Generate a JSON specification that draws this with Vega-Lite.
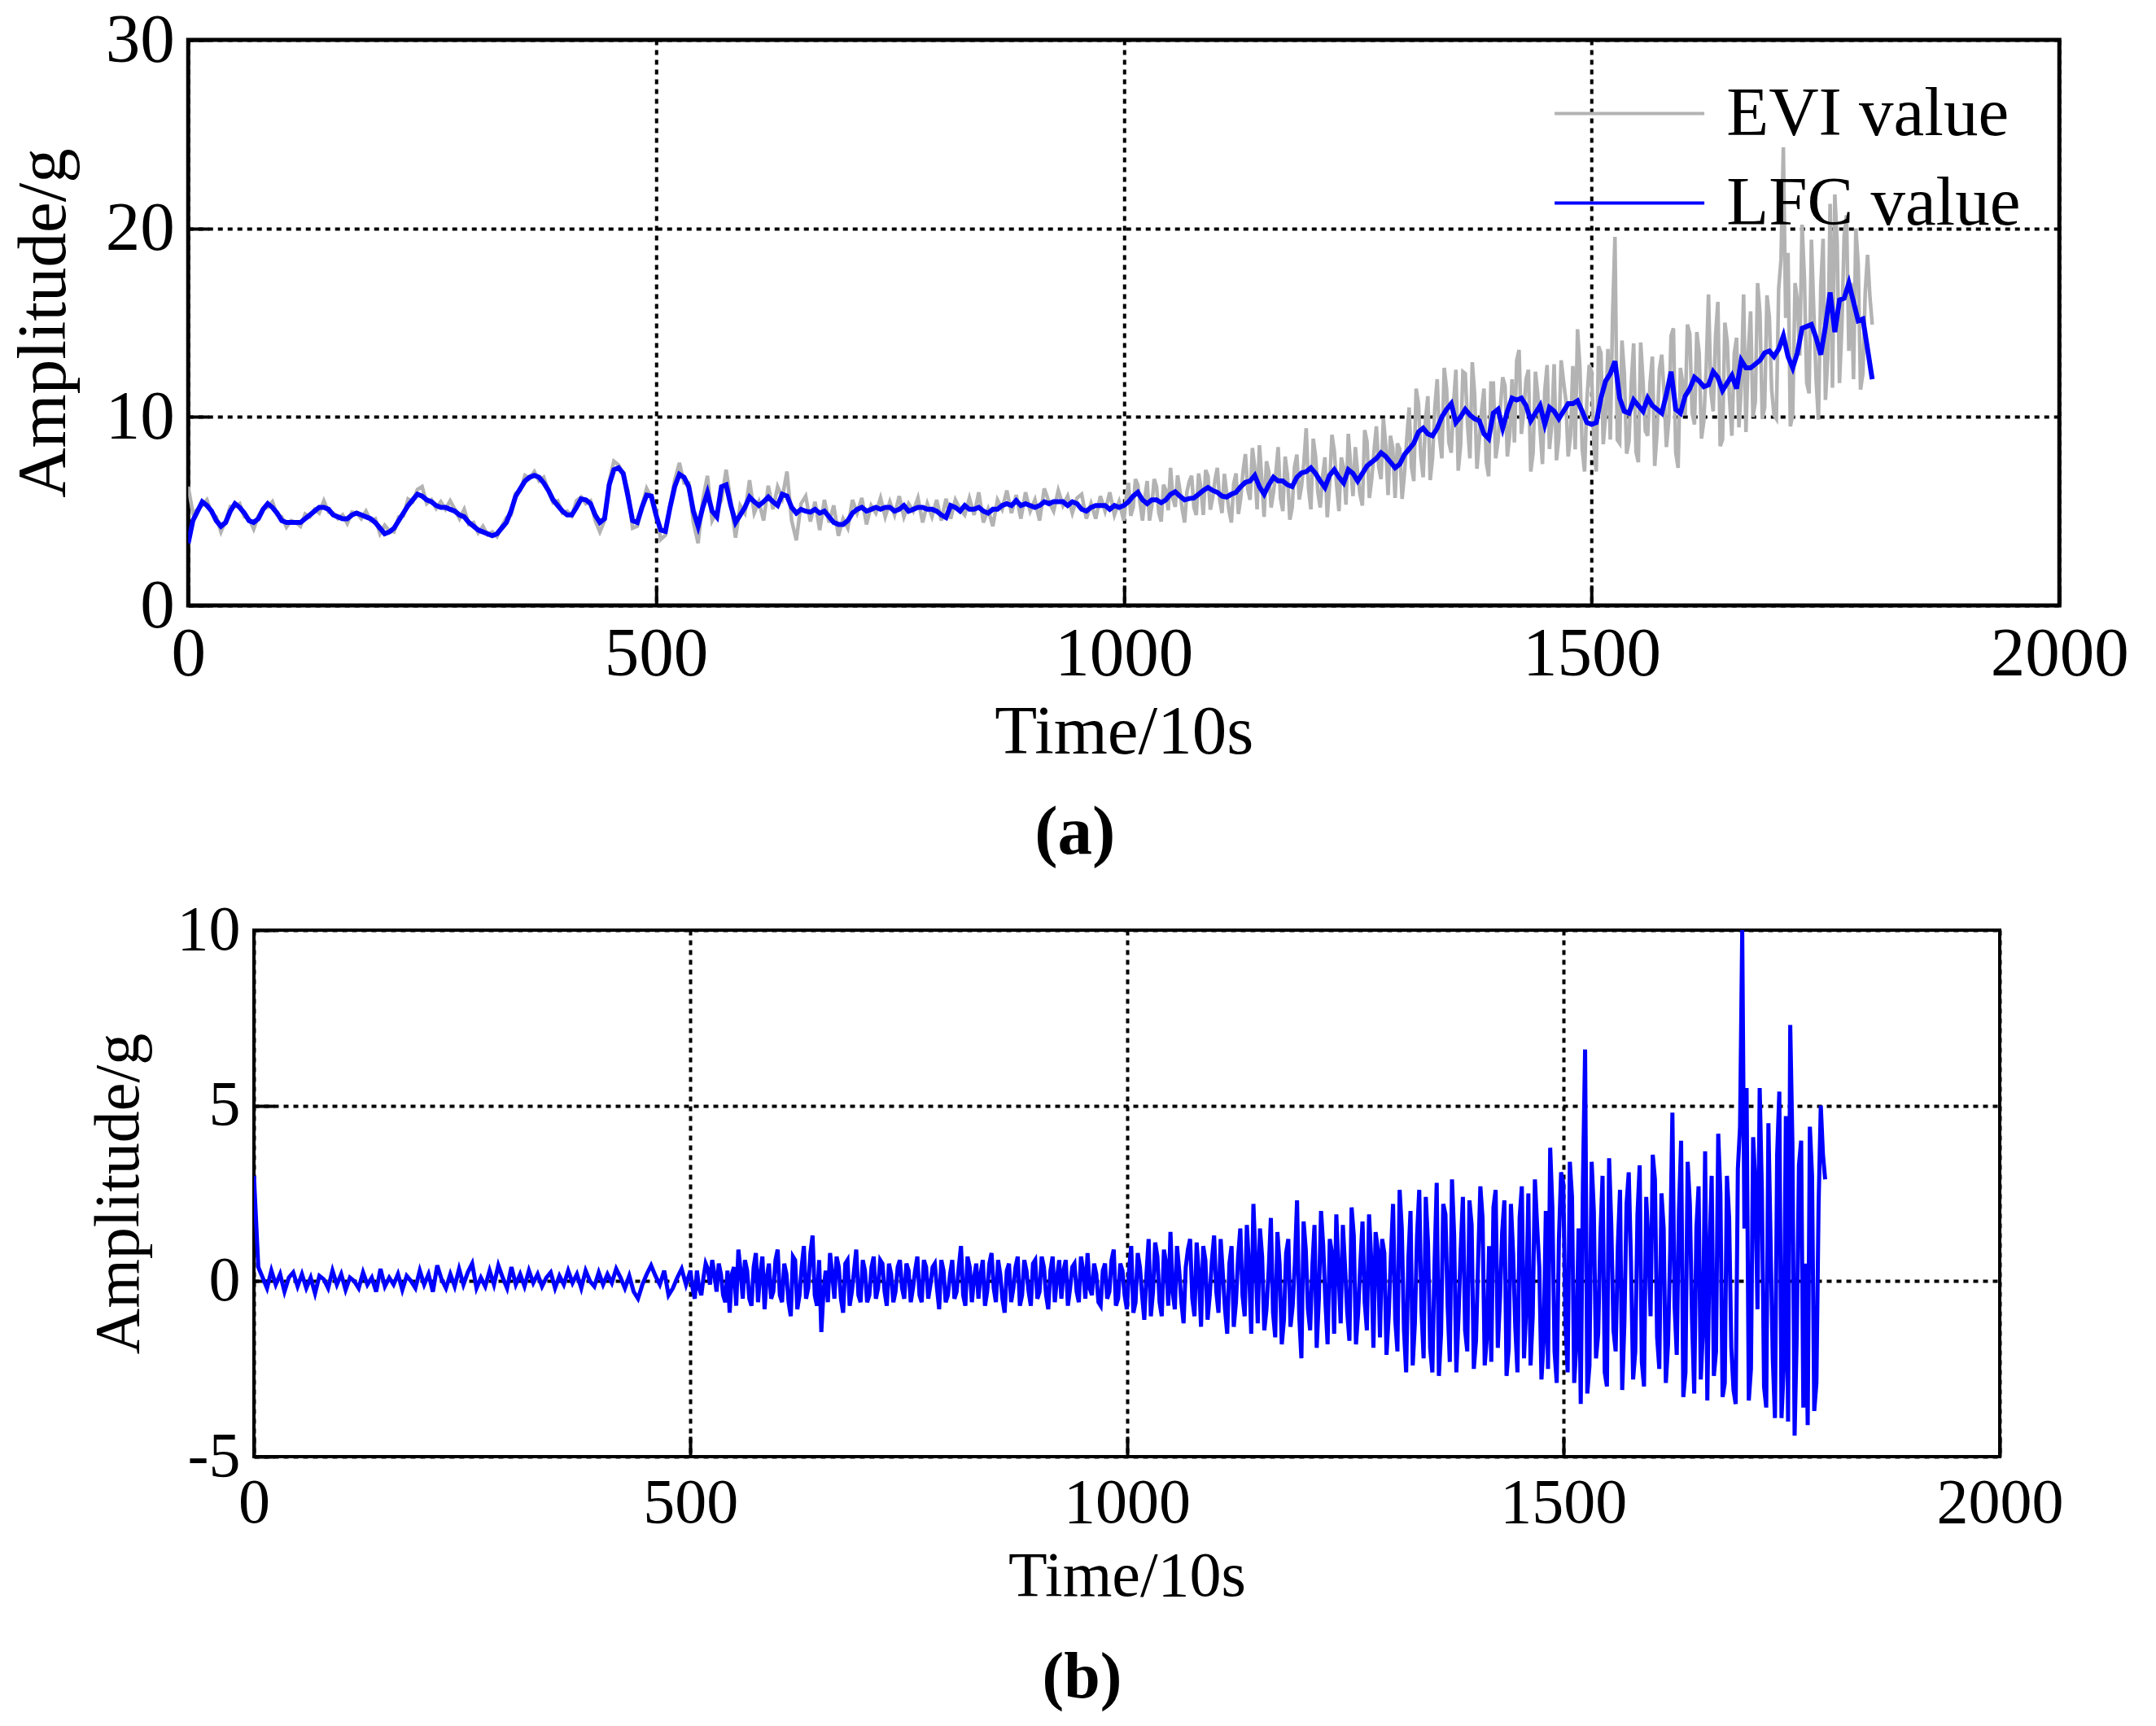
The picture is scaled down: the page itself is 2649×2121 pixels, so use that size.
{
"$schema":"https://vega.github.io/schema/vega-lite/v6.json",
"background":"white",
"padding":{"left":8,"top":4,"right":10,"bottom":0},
"config":{"font":"Liberation Serif","view":{"stroke":"black","strokeWidth":5},
"axis":{"labelFont":"Liberation Serif","titleFont":"Liberation Serif","labelColor":"black","titleColor":"black","titleFontWeight":"normal","domain":false,"grid":true,"gridColor":"black","gridDash":[6,6],"gridWidth":4,"gridOpacity":1,"tickColor":"black","tickWidth":4,"tickSize":-25,"zindex":1,"labelLimit":0,"labelOverlap":false,"labelFlush":false,"labelExpr":"'' + datum.value"},
"legend":{"labelFont":"Liberation Serif","labelLimit":0}},
"datasets":{"d":[
{"t":0,"l":3.3,"r":3.0,"e":6.3},{"t":5,"l":4.5,"r":0.4,"e":4.9},{"t":10,"l":5.0,"r":0.1,"e":5.1},{"t":15,"l":5.5,"r":-0.2,"e":5.3},{"t":20,"l":5.3,"r":0.3,"e":5.6},{"t":25,"l":5.0,"r":-0.1,"e":4.9},{"t":30,"l":4.5,"r":0.2,"e":4.7},{"t":35,"l":4.2,"r":-0.3,"e":3.9},{"t":40,"l":4.4,"r":0.1,"e":4.5},{"t":45,"l":5.0,"r":0.25,"e":5.25},
{"t":50,"l":5.4,"r":-0.15,"e":5.25},{"t":55,"l":5.2,"r":0.2,"e":5.4},{"t":60,"l":4.9,"r":-0.2,"e":4.7},{"t":65,"l":4.5,"r":0.1,"e":4.6},{"t":70,"l":4.4,"r":-0.35,"e":4.05},{"t":75,"l":4.6,"r":0.15,"e":4.75},{"t":80,"l":5.1,"r":0.05,"e":5.15},{"t":85,"l":5.4,"r":-0.2,"e":5.2},{"t":90,"l":5.2,"r":0.3,"e":5.5},{"t":95,"l":4.9,"r":-0.1,"e":4.8},
{"t":100,"l":4.5,"r":0.2,"e":4.7},{"t":105,"l":4.4,"r":-0.25,"e":4.15},{"t":110,"l":4.4,"r":0.1,"e":4.5},{"t":115,"l":4.4,"r":0.0,"e":4.4},{"t":120,"l":4.4,"r":-0.2,"e":4.2},{"t":125,"l":4.6,"r":0.25,"e":4.85},{"t":130,"l":4.8,"r":-0.1,"e":4.7},{"t":135,"l":5.0,"r":0.1,"e":5.1},{"t":140,"l":5.2,"r":-0.3,"e":4.9},{"t":145,"l":5.2,"r":0.35,"e":5.55},
{"t":150,"l":5.1,"r":-0.15,"e":4.95},{"t":155,"l":4.8,"r":0.1,"e":4.9},{"t":160,"l":4.7,"r":-0.1,"e":4.6},{"t":165,"l":4.6,"r":0.2,"e":4.8},{"t":170,"l":4.6,"r":-0.25,"e":4.35},{"t":175,"l":4.8,"r":0.15,"e":4.95},{"t":180,"l":4.9,"r":0.0,"e":4.9},{"t":185,"l":4.8,"r":-0.2,"e":4.6},{"t":190,"l":4.7,"r":0.3,"e":5.0},{"t":195,"l":4.6,"r":-0.1,"e":4.5},
{"t":200,"l":4.4,"r":0.2,"e":4.6},{"t":205,"l":4.1,"r":-0.3,"e":3.8},{"t":210,"l":3.8,"r":0.45,"e":4.25},{"t":215,"l":3.9,"r":0.05,"e":3.95},{"t":220,"l":4.1,"r":-0.2,"e":3.9},{"t":225,"l":4.5,"r":0.2,"e":4.7},{"t":230,"l":4.9,"r":-0.15,"e":4.75},{"t":235,"l":5.3,"r":0.35,"e":5.65},{"t":240,"l":5.6,"r":-0.1,"e":5.5},{"t":245,"l":5.9,"r":0.25,"e":6.15},
{"t":250,"l":5.8,"r":0.5,"e":6.3},{"t":255,"l":5.6,"r":-0.2,"e":5.4},{"t":260,"l":5.5,"r":0.1,"e":5.6},{"t":265,"l":5.3,"r":-0.15,"e":5.15},{"t":270,"l":5.2,"r":0.3,"e":5.5},{"t":275,"l":5.2,"r":-0.1,"e":5.1},{"t":280,"l":5.1,"r":0.45,"e":5.55},{"t":285,"l":5.0,"r":0.1,"e":5.1},{"t":290,"l":4.8,"r":-0.2,"e":4.6},{"t":295,"l":4.7,"r":0.4,"e":5.1},
{"t":300,"l":4.4,"r":-0.1,"e":4.3},{"t":305,"l":4.2,"r":0.2,"e":4.4},{"t":310,"l":4.0,"r":-0.15,"e":3.85},{"t":315,"l":3.9,"r":0.3,"e":4.2},{"t":320,"l":3.8,"r":-0.05,"e":3.75},{"t":325,"l":3.7,"r":0.2,"e":3.9},{"t":330,"l":3.8,"r":-0.15,"e":3.65},{"t":335,"l":4.1,"r":0.1,"e":4.2},{"t":340,"l":4.4,"r":0.25,"e":4.65},{"t":345,"l":5.0,"r":-0.2,"e":4.8},
{"t":350,"l":5.8,"r":0.15,"e":5.95},{"t":355,"l":6.2,"r":-0.1,"e":6.1},{"t":360,"l":6.6,"r":0.3,"e":6.9},{"t":365,"l":6.8,"r":-0.05,"e":6.75},{"t":370,"l":6.9,"r":0.2,"e":7.1},{"t":375,"l":6.8,"r":-0.2,"e":6.6},{"t":380,"l":6.5,"r":0.3,"e":6.8},{"t":385,"l":6.1,"r":0.0,"e":6.1},{"t":390,"l":5.6,"r":-0.15,"e":5.45},{"t":395,"l":5.3,"r":0.25,"e":5.55},
{"t":400,"l":5.0,"r":-0.1,"e":4.9},{"t":405,"l":4.8,"r":0.2,"e":5.0},{"t":410,"l":4.8,"r":-0.05,"e":4.75},{"t":415,"l":5.2,"r":0.35,"e":5.55},{"t":420,"l":5.65,"r":0.1,"e":5.75},{"t":425,"l":5.6,"r":-0.2,"e":5.4},{"t":430,"l":5.4,"r":0.15,"e":5.55},{"t":435,"l":4.8,"r":-0.3,"e":4.5},{"t":440,"l":4.4,"r":-0.5,"e":3.9},{"t":445,"l":4.6,"r":-0.1,"e":4.5},
{"t":450,"l":6.4,"r":0.2,"e":6.6},{"t":455,"l":7.2,"r":0.45,"e":7.65},{"t":460,"l":7.3,"r":0.15,"e":7.45},{"t":465,"l":7.0,"r":-0.1,"e":6.9},{"t":470,"l":5.8,"r":0.3,"e":6.1},{"t":475,"l":4.5,"r":-0.4,"e":4.1},{"t":480,"l":4.4,"r":-0.2,"e":4.2},{"t":485,"l":5.2,"r":0.1,"e":5.3},{"t":490,"l":5.85,"r":0.35,"e":6.2},{"t":495,"l":5.8,"r":-0.1,"e":5.7},
{"t":500,"l":4.8,"r":0.3,"e":5.1},{"t":505,"l":4.0,"r":-0.5,"e":3.5},{"t":510,"l":3.93,"r":-0.2,"e":3.73},{"t":515,"l":5.2,"r":0.1,"e":5.3},{"t":520,"l":6.3,"r":0.35,"e":6.65},{"t":525,"l":6.96,"r":0.6,"e":7.56},{"t":530,"l":6.8,"r":-0.3,"e":6.5},{"t":535,"l":6.3,"r":0.2,"e":6.5},{"t":540,"l":5.0,"r":-0.6,"e":4.4},{"t":545,"l":4.2,"r":-0.9,"e":3.3},
{"t":550,"l":5.2,"r":0.4,"e":5.6},{"t":555,"l":5.98,"r":0.9,"e":6.88},{"t":560,"l":5.0,"r":-0.5,"e":4.5},{"t":565,"l":4.7,"r":0.3,"e":5.0},{"t":570,"l":6.3,"r":-0.7,"e":5.6},{"t":575,"l":6.4,"r":0.8,"e":7.2},{"t":580,"l":5.3,"r":0.2,"e":5.5},{"t":585,"l":4.4,"r":-0.8,"e":3.6},{"t":590,"l":4.8,"r":0.5,"e":5.3},{"t":595,"l":5.2,"r":-0.3,"e":4.9},
{"t":600,"l":5.75,"r":0.9,"e":6.65},{"t":605,"l":5.5,"r":-0.6,"e":4.9},{"t":610,"l":5.3,"r":0.2,"e":5.5},{"t":615,"l":5.5,"r":-1.0,"e":4.5},{"t":620,"l":5.75,"r":0.6,"e":6.35},{"t":625,"l":5.5,"r":-0.4,"e":5.1},{"t":630,"l":5.3,"r":1.0,"e":6.3},{"t":635,"l":5.9,"r":-0.2,"e":5.7},{"t":640,"l":5.8,"r":1.3,"e":7.1},{"t":645,"l":5.2,"r":-0.7,"e":4.5},
{"t":650,"l":4.9,"r":-1.45,"e":3.45},{"t":655,"l":5.1,"r":0.3,"e":5.4},{"t":660,"l":5.0,"r":0.8,"e":5.8},{"t":665,"l":4.95,"r":-0.5,"e":4.45},{"t":670,"l":5.1,"r":0.4,"e":5.5},{"t":675,"l":4.9,"r":-0.9,"e":4.0},{"t":680,"l":5.0,"r":0.6,"e":5.6},{"t":685,"l":4.7,"r":-0.3,"e":4.4},{"t":690,"l":4.4,"r":0.9,"e":5.3},{"t":695,"l":4.3,"r":-0.6,"e":3.7},
{"t":700,"l":4.3,"r":0.3,"e":4.6},{"t":705,"l":4.5,"r":-0.4,"e":4.1},{"t":710,"l":4.9,"r":0.7,"e":5.6},{"t":715,"l":5.1,"r":-0.2,"e":4.9},{"t":720,"l":5.2,"r":0.5,"e":5.7},{"t":725,"l":5.0,"r":-0.7,"e":4.3},{"t":730,"l":5.1,"r":0.2,"e":5.3},{"t":735,"l":5.2,"r":-0.3,"e":4.9},{"t":740,"l":5.1,"r":0.6,"e":5.7},{"t":745,"l":5.2,"r":-0.5,"e":4.7},
{"t":750,"l":5.2,"r":0.3,"e":5.5},{"t":755,"l":5.0,"r":-0.2,"e":4.8},{"t":760,"l":5.1,"r":0.7,"e":5.8},{"t":765,"l":5.3,"r":-0.6,"e":4.7},{"t":770,"l":5.0,"r":0.4,"e":5.4},{"t":775,"l":5.1,"r":-0.1,"e":5.0},{"t":780,"l":5.2,"r":0.5,"e":5.7},{"t":785,"l":5.2,"r":-0.8,"e":4.4},{"t":790,"l":5.1,"r":0.3,"e":5.4},{"t":795,"l":5.1,"r":-0.4,"e":4.7},
{"t":800,"l":5.0,"r":0.6,"e":5.6},{"t":805,"l":4.8,"r":-0.3,"e":4.5},{"t":810,"l":4.66,"r":1.0,"e":5.66},{"t":815,"l":5.3,"r":-0.7,"e":4.6},{"t":820,"l":5.2,"r":0.4,"e":5.6},{"t":825,"l":5.0,"r":0.1,"e":5.1},{"t":830,"l":5.3,"r":-0.5,"e":4.8},{"t":835,"l":5.1,"r":0.6,"e":5.7},{"t":840,"l":5.1,"r":-0.3,"e":4.8},{"t":845,"l":5.2,"r":0.8,"e":6.0},
{"t":850,"l":5.0,"r":-0.6,"e":4.4},{"t":855,"l":4.9,"r":0.2,"e":5.1},{"t":860,"l":5.1,"r":-0.9,"e":4.2},{"t":865,"l":5.1,"r":0.5,"e":5.6},{"t":870,"l":5.3,"r":-0.2,"e":5.1},{"t":875,"l":5.4,"r":0.7,"e":6.1},{"t":880,"l":5.3,"r":-0.4,"e":4.9},{"t":885,"l":5.56,"r":0.3,"e":5.86},{"t":890,"l":5.3,"r":-0.7,"e":4.6},{"t":895,"l":5.4,"r":0.6,"e":6.0},
{"t":900,"l":5.3,"r":-0.3,"e":5.0},{"t":905,"l":5.2,"r":0.4,"e":5.6},{"t":910,"l":5.3,"r":-0.8,"e":4.5},{"t":915,"l":5.5,"r":0.7,"e":6.2},{"t":920,"l":5.4,"r":0.1,"e":5.5},{"t":925,"l":5.5,"r":-0.5,"e":5.0},{"t":930,"l":5.5,"r":0.6,"e":6.1},{"t":935,"l":5.5,"r":-0.2,"e":5.3},{"t":940,"l":5.3,"r":0.5,"e":5.8},{"t":945,"l":5.5,"r":-0.6,"e":4.9},
{"t":950,"l":5.4,"r":0.3,"e":5.7},{"t":955,"l":5.1,"r":0.8,"e":5.9},{"t":960,"l":5.0,"r":-0.4,"e":4.6},{"t":965,"l":5.2,"r":0.2,"e":5.4},{"t":970,"l":5.3,"r":-0.7,"e":4.6},{"t":975,"l":5.3,"r":0.5,"e":5.8},{"t":980,"l":5.3,"r":-0.3,"e":5.0},{"t":985,"l":5.1,"r":0.9,"e":6.0},{"t":990,"l":5.3,"r":-0.5,"e":4.8},{"t":995,"l":5.2,"r":0.3,"e":5.5},
{"t":1000,"l":5.3,"r":-0.8,"e":4.5},{"t":1005,"l":5.5,"r":1.0,"e":6.5},{"t":1010,"l":5.8,"r":-0.6,"e":5.2},{"t":1015,"l":6.0,"r":0.4,"e":6.4},{"t":1020,"l":5.6,"r":-1.1,"e":4.5},{"t":1025,"l":5.4,"r":1.2,"e":6.6},{"t":1030,"l":5.6,"r":-0.3,"e":5.3},{"t":1035,"l":5.6,"r":0.7,"e":6.3},{"t":1040,"l":5.45,"r":-1.0,"e":4.45},{"t":1045,"l":5.6,"r":0.5,"e":6.1},
{"t":1050,"l":5.9,"r":1.4,"e":7.3},{"t":1055,"l":6.03,"r":-0.8,"e":5.23},{"t":1060,"l":5.8,"r":0.3,"e":6.1},{"t":1065,"l":5.6,"r":-1.2,"e":4.4},{"t":1070,"l":5.67,"r":0.9,"e":6.57},{"t":1075,"l":5.7,"r":-0.5,"e":5.2},{"t":1080,"l":5.9,"r":1.1,"e":7.0},{"t":1085,"l":6.1,"r":-1.3,"e":4.8},{"t":1090,"l":6.26,"r":0.6,"e":6.86},{"t":1095,"l":6.1,"r":-0.4,"e":5.7},
{"t":1100,"l":6.0,"r":1.3,"e":7.3},{"t":1105,"l":5.8,"r":-0.9,"e":4.9},{"t":1110,"l":5.75,"r":0.2,"e":5.95},{"t":1115,"l":5.9,"r":-1.5,"e":4.4},{"t":1120,"l":6.0,"r":1.0,"e":7.0},{"t":1125,"l":6.3,"r":-0.6,"e":5.7},{"t":1130,"l":6.53,"r":1.5,"e":8.03},{"t":1135,"l":6.6,"r":-1.0,"e":5.6},{"t":1140,"l":6.9,"r":0.4,"e":7.3},{"t":1145,"l":6.3,"r":2.2,"e":8.5},
{"t":1150,"l":5.9,"r":-1.2,"e":4.7},{"t":1155,"l":6.4,"r":0.7,"e":7.1},{"t":1160,"l":6.8,"r":-0.8,"e":6.0},{"t":1165,"l":6.6,"r":1.8,"e":8.4},{"t":1170,"l":6.6,"r":-1.6,"e":5.0},{"t":1175,"l":6.4,"r":0.5,"e":6.9},{"t":1180,"l":6.3,"r":-1.1,"e":5.2},{"t":1185,"l":6.8,"r":1.2,"e":8.0},{"t":1190,"l":7.03,"r":-0.7,"e":6.33},{"t":1195,"l":7.1,"r":2.3,"e":9.4},
{"t":1200,"l":7.3,"r":-2.2,"e":5.1},{"t":1205,"l":7.0,"r":0.9,"e":7.9},{"t":1210,"l":6.6,"r":-1.4,"e":5.2},{"t":1215,"l":6.26,"r":1.6,"e":7.86},{"t":1220,"l":6.9,"r":-0.5,"e":6.4},{"t":1225,"l":7.2,"r":1.0,"e":8.2},{"t":1230,"l":6.8,"r":-1.8,"e":5.0},{"t":1235,"l":6.5,"r":0.8,"e":7.3},{"t":1240,"l":7.2,"r":1.9,"e":9.1},{"t":1245,"l":7.0,"r":-1.2,"e":5.8},
{"t":1250,"l":6.6,"r":0.4,"e":7.0},{"t":1255,"l":7.0,"r":-1.7,"e":5.3},{"t":1260,"l":7.4,"r":1.3,"e":8.7},{"t":1265,"l":7.6,"r":-0.9,"e":6.7},{"t":1270,"l":7.8,"r":1.7,"e":9.5},{"t":1275,"l":8.1,"r":-1.4,"e":6.7},{"t":1280,"l":7.9,"r":0.6,"e":8.5},{"t":1285,"l":7.6,"r":1.4,"e":9.0},{"t":1290,"l":7.3,"r":-1.6,"e":5.7},{"t":1295,"l":7.5,"r":0.8,"e":8.3},
{"t":1300,"l":8.0,"r":-1.0,"e":7.0},{"t":1305,"l":8.3,"r":2.2,"e":10.5},{"t":1310,"l":8.6,"r":-2.0,"e":6.6},{"t":1315,"l":9.2,"r":1.5,"e":10.7},{"t":1320,"l":9.4,"r":-2.6,"e":6.8},{"t":1325,"l":9.1,"r":2.0,"e":11.1},{"t":1330,"l":9.0,"r":-1.2,"e":7.8},{"t":1335,"l":9.4,"r":2.6,"e":12.0},{"t":1340,"l":10.0,"r":-2.2,"e":7.8},{"t":1345,"l":10.4,"r":1.1,"e":11.5},
{"t":1350,"l":10.7,"r":-2.6,"e":8.1},{"t":1355,"l":9.7,"r":2.8,"e":12.5},{"t":1360,"l":10.0,"r":-1.5,"e":8.5},{"t":1365,"l":10.4,"r":1.9,"e":12.3},{"t":1370,"l":10.1,"r":-2.3,"e":7.8},{"t":1375,"l":9.9,"r":1.3,"e":11.2},{"t":1380,"l":9.8,"r":-1.0,"e":8.8},{"t":1385,"l":9.1,"r":2.4,"e":11.5},{"t":1390,"l":8.85,"r":-2.0,"e":6.85},{"t":1395,"l":10.2,"r":1.6,"e":11.8},
{"t":1400,"l":10.4,"r":-1.7,"e":8.7},{"t":1405,"l":9.4,"r":2.7,"e":12.1},{"t":1410,"l":10.3,"r":-2.4,"e":7.9},{"t":1415,"l":11.0,"r":1.0,"e":12.0},{"t":1420,"l":10.9,"r":2.1,"e":13.0},{"t":1425,"l":11.0,"r":-1.9,"e":9.1},{"t":1430,"l":10.6,"r":1.4,"e":12.0},{"t":1435,"l":9.8,"r":-2.7,"e":7.1},{"t":1440,"l":10.2,"r":2.2,"e":12.4},{"t":1445,"l":10.6,"r":-1.3,"e":9.3},
{"t":1450,"l":9.6,"r":1.8,"e":11.4},{"t":1455,"l":10.5,"r":-2.2,"e":8.3},{"t":1460,"l":10.3,"r":2.5,"e":12.8},{"t":1465,"l":9.9,"r":-1.0,"e":8.9},{"t":1470,"l":10.3,"r":1.6,"e":11.9},{"t":1475,"l":10.7,"r":-2.8,"e":7.9},{"t":1480,"l":10.7,"r":2.0,"e":12.7},{"t":1485,"l":10.85,"r":3.8,"e":14.65},{"t":1490,"l":10.3,"r":-2.0,"e":8.3},{"t":1495,"l":9.7,"r":1.2,"e":10.9},
{"t":1500,"l":9.6,"r":2.8,"e":12.4},{"t":1505,"l":9.7,"r":-2.6,"e":7.1},{"t":1510,"l":11.0,"r":2.4,"e":13.4},{"t":1515,"l":11.9,"r":-1.8,"e":10.1},{"t":1520,"l":12.3,"r":-3.5,"e":8.8},{"t":1525,"l":12.95,"r":6.6,"e":19.55},{"t":1530,"l":11.0,"r":-2.4,"e":8.6},{"t":1535,"l":10.3,"r":2.0,"e":12.3},{"t":1540,"l":10.2,"r":-1.5,"e":8.7},{"t":1545,"l":10.9,"r":3.0,"e":13.9},
{"t":1550,"l":10.6,"r":-3.0,"e":7.6},{"t":1555,"l":10.3,"r":1.6,"e":11.9},{"t":1560,"l":11.0,"r":-2.0,"e":9.0},{"t":1565,"l":10.6,"r":2.6,"e":13.2},{"t":1570,"l":10.4,"r":-1.2,"e":9.2},{"t":1575,"l":10.2,"r":3.1,"e":13.3},{"t":1580,"l":11.2,"r":-2.8,"e":8.4},{"t":1585,"l":12.4,"r":1.9,"e":14.3},{"t":1590,"l":10.4,"r":-2.3,"e":8.1},{"t":1595,"l":10.2,"r":2.4,"e":12.6},
{"t":1600,"l":11.1,"r":-1.0,"e":10.1},{"t":1605,"l":11.5,"r":2.9,"e":14.4},{"t":1610,"l":12.1,"r":-2.5,"e":9.6},{"t":1615,"l":11.9,"r":1.5,"e":13.4},{"t":1620,"l":11.6,"r":-1.8,"e":9.8},{"t":1625,"l":11.7,"r":4.8,"e":16.5},{"t":1630,"l":12.4,"r":-2.1,"e":10.3},{"t":1635,"l":12.1,"r":4.0,"e":16.1},{"t":1640,"l":11.4,"r":-2.6,"e":8.8},{"t":1645,"l":11.8,"r":2.2,"e":14.0},
{"t":1650,"l":12.2,"r":-3.2,"e":9.0},{"t":1655,"l":11.5,"r":2.7,"e":14.2},{"t":1660,"l":13.0,"r":-1.4,"e":11.6},{"t":1665,"l":12.6,"r":-3.4,"e":9.2},{"t":1670,"l":12.6,"r":3.0,"e":15.6},{"t":1675,"l":12.8,"r":-2.0,"e":10.8},{"t":1680,"l":13.0,"r":2.5,"e":15.5},{"t":1685,"l":13.4,"r":-2.9,"e":10.5},{"t":1690,"l":13.5,"r":1.8,"e":15.3},{"t":1695,"l":13.2,"r":-3.1,"e":10.1},
{"t":1700,"l":13.6,"r":3.2,"e":16.8},{"t":1705,"l":14.3,"r":10.0,"e":24.3},{"t":1710,"l":13.2,"r":5.5,"e":18.7},{"t":1715,"l":12.6,"r":-2.5,"e":10.1},{"t":1720,"l":13.4,"r":2.8,"e":16.2},{"t":1725,"l":14.7,"r":5.5,"e":20.2},{"t":1730,"l":14.8,"r":-3.0,"e":11.8},{"t":1735,"l":14.9,"r":4.5,"e":19.4},{"t":1740,"l":14.2,"r":-2.2,"e":12.0},{"t":1745,"l":13.3,"r":3.6,"e":16.9},
{"t":1750,"l":14.8,"r":-3.9,"e":10.9},{"t":1755,"l":16.6,"r":4.7,"e":21.3},{"t":1760,"l":14.5,"r":7.3,"e":21.8},{"t":1765,"l":16.2,"r":-4.4,"e":11.8},{"t":1770,"l":16.3,"r":3.3,"e":19.6},{"t":1775,"l":17.1,"r":-3.6,"e":13.5},{"t":1780,"l":16.1,"r":-4.1,"e":12.0},{"t":1785,"l":15.1,"r":3.0,"e":18.1},{"t":1790,"l":15.2,"r":-2.9,"e":12.3},{"t":1795,"l":13.6,"r":5.0,"e":18.6},
{"t":1800,"l":12.0,"r":2.9,"e":14.9},
{"t":502.5,"r":-0.2},{"t":507.5,"r":0.3},{"t":512.5,"r":-0.4},{"t":517.5,"r":0.5},{"t":522.5,"r":-0.1},{"t":527.5,"r":0.2},{"t":532.5,"r":0.5},{"t":537.5,"r":-0.4},{"t":542.5,"r":0.3},{"t":547.5,"r":0.2},
{"t":552.5,"r":-0.7},{"t":557.5,"r":0.3},{"t":562.5,"r":0.6},{"t":567.5,"r":-0.5},{"t":572.5,"r":0.4},{"t":577.5,"r":-0.6},{"t":582.5,"r":0.7},{"t":587.5,"r":0.1},{"t":592.5,"r":-0.5},{"t":597.5,"r":0.6},
{"t":602.5,"r":-0.4},{"t":607.5,"r":0.5},{"t":612.5,"r":-0.6},{"t":617.5,"r":0.7},{"t":622.5,"r":-0.8},{"t":627.5,"r":0.4},{"t":632.5,"r":-0.5},{"t":637.5,"r":0.8},{"t":642.5,"r":-0.4},{"t":647.5,"r":0.6},
{"t":652.5,"r":-0.3},{"t":657.5,"r":-0.6},{"t":662.5,"r":0.2},{"t":667.5,"r":0.7},{"t":672.5,"r":-0.5},{"t":677.5,"r":0.5},{"t":682.5,"r":-0.7},{"t":687.5,"r":0.3},{"t":692.5,"r":-0.4},{"t":697.5,"r":0.6},
{"t":702.5,"r":-0.6},{"t":707.5,"r":0.4},{"t":712.5,"r":-0.5},{"t":717.5,"r":0.6},{"t":722.5,"r":-0.3},{"t":727.5,"r":0.5},{"t":732.5,"r":-0.6},{"t":737.5,"r":0.4},{"t":742.5,"r":-0.2},{"t":747.5,"r":0.5},
{"t":752.5,"r":-0.6},{"t":757.5,"r":0.3},{"t":762.5,"r":-0.4},{"t":767.5,"r":0.6},{"t":772.5,"r":-0.5},{"t":777.5,"r":0.4},{"t":782.5,"r":-0.2},{"t":787.5,"r":0.6},{"t":792.5,"r":-0.6},{"t":797.5,"r":0.2},
{"t":802.5,"r":-0.5},{"t":807.5,"r":0.4},{"t":812.5,"r":-0.4},{"t":817.5,"r":0.7},{"t":822.5,"r":-0.6},{"t":827.5,"r":0.5},{"t":832.5,"r":0.2},{"t":837.5,"r":-0.7},{"t":842.5,"r":0.5},{"t":847.5,"r":-0.2},
{"t":852.5,"r":0.6},{"t":857.5,"r":-0.5},{"t":862.5,"r":0.3},{"t":867.5,"r":-0.6},{"t":872.5,"r":0.4},{"t":877.5,"r":-0.7},{"t":882.5,"r":0.6},{"t":887.5,"r":-0.3},{"t":892.5,"r":0.5},{"t":897.5,"r":-0.5},
{"t":902.5,"r":0.7},{"t":907.5,"r":-0.4},{"t":912.5,"r":0.3},{"t":917.5,"r":-0.6},{"t":922.5,"r":0.6},{"t":927.5,"r":0.3},{"t":932.5,"r":-0.7},{"t":937.5,"r":0.4},{"t":942.5,"r":-0.3},{"t":947.5,"r":0.7},
{"t":952.5,"r":-0.5},{"t":957.5,"r":-0.2},{"t":962.5,"r":0.5},{"t":967.5,"r":-0.6},{"t":972.5,"r":0.3},{"t":977.5,"r":-0.5},{"t":982.5,"r":0.6},{"t":987.5,"r":-0.7},{"t":992.5,"r":0.5},{"t":997.5,"r":-0.4},
{"t":1002.5,"r":0.3,"e":5.7},{"t":1007.5,"r":-0.9,"e":4.75},{"t":1012.5,"r":0.8,"e":6.7},{"t":1017.5,"r":-0.4,"e":5.4},{"t":1022.5,"r":0.2,"e":5.7},{"t":1027.5,"r":-1.0,"e":4.5},{"t":1032.5,"r":1.1,"e":6.7},{"t":1037.5,"r":-0.6,"e":4.9},{"t":1042.5,"r":0.9,"e":6.4},{"t":1047.5,"r":-0.7,"e":5.05},
{"t":1052.5,"r":-0.3,"e":5.67},{"t":1057.5,"r":1.0,"e":6.9},{"t":1062.5,"r":-0.6,"e":5.1},{"t":1067.5,"r":0.4,"e":6.03},{"t":1072.5,"r":1.2,"e":6.88},{"t":1077.5,"r":-1.0,"e":4.8},{"t":1082.5,"r":0.2,"e":6.2},{"t":1087.5,"r":1.0,"e":7.18},{"t":1092.5,"r":-1.1,"e":5.08},{"t":1097.5,"r":0.6,"e":6.65},
{"t":1102.5,"r":-0.3,"e":5.6},{"t":1107.5,"r":1.2,"e":6.98},{"t":1112.5,"r":-0.8,"e":5.03},{"t":1117.5,"r":0.5,"e":6.45},{"t":1122.5,"r":-1.3,"e":4.85},{"t":1127.5,"r":0.7,"e":7.12},{"t":1132.5,"r":-0.4,"e":6.17},{"t":1137.5,"r":1.6,"e":8.35},{"t":1142.5,"r":-1.5,"e":5.1},{"t":1147.5,"r":0.6,"e":6.7},
{"t":1152.5,"r":1.5,"e":7.65},{"t":1157.5,"r":-1.4,"e":5.2},{"t":1162.5,"r":0.3,"e":7.0},{"t":1167.5,"r":-0.9,"e":5.7},{"t":1172.5,"r":1.4,"e":7.9},{"t":1177.5,"r":-1.8,"e":4.55},{"t":1182.5,"r":0.8,"e":7.35},{"t":1187.5,"r":-1.3,"e":5.62},{"t":1192.5,"r":0.5,"e":7.57},{"t":1197.5,"r":-1.0,"e":6.2},
{"t":1202.5,"r":1.7,"e":8.85},{"t":1207.5,"r":-0.8,"e":6.0},{"t":1212.5,"r":0.4,"e":6.83},{"t":1217.5,"r":-1.9,"e":4.68},{"t":1222.5,"r":2.0,"e":9.05},{"t":1227.5,"r":-0.6,"e":6.4},{"t":1232.5,"r":1.2,"e":7.85},{"t":1237.5,"r":-1.5,"e":5.35},{"t":1242.5,"r":0.3,"e":7.4},{"t":1247.5,"r":1.6,"e":8.4},
{"t":1252.5,"r":-0.9,"e":5.9},{"t":1257.5,"r":2.1,"e":9.3},{"t":1262.5,"r":-1.8,"e":5.7},{"t":1267.5,"r":0.5,"e":8.2},{"t":1272.5,"r":-0.6,"e":7.35},{"t":1277.5,"r":1.9,"e":9.9},{"t":1282.5,"r":-1.9,"e":5.85},{"t":1287.5,"r":0.9,"e":8.35},{"t":1292.5,"r":1.2,"e":8.6},{"t":1297.5,"r":-2.1,"e":5.65},
{"t":1302.5,"r":0.7,"e":8.85},{"t":1307.5,"r":-1.1,"e":7.35},{"t":1312.5,"r":2.6,"e":11.5},{"t":1317.5,"r":-1.4,"e":7.9},{"t":1322.5,"r":0.6,"e":9.85},{"t":1327.5,"r":-2.4,"e":6.65},{"t":1332.5,"r":1.3,"e":10.5},{"t":1337.5,"r":-0.8,"e":8.9},{"t":1342.5,"r":2.4,"e":12.6},{"t":1347.5,"r":-1.9,"e":8.65},
{"t":1352.5,"r":0.5,"e":10.7},{"t":1357.5,"r":-2.7,"e":7.15},{"t":1362.5,"r":2.2,"e":12.4},{"t":1367.5,"r":-0.7,"e":9.55},{"t":1372.5,"r":2.9,"e":12.9},{"t":1377.5,"r":-2.6,"e":7.25},{"t":1382.5,"r":0.9,"e":10.35},{"t":1387.5,"r":-1.4,"e":7.58},{"t":1392.5,"r":2.3,"e":11.8},{"t":1397.5,"r":-2.5,"e":7.8},
{"t":1402.5,"r":0.6,"e":10.5},{"t":1407.5,"r":1.8,"e":11.65},{"t":1412.5,"r":-1.6,"e":9.05},{"t":1417.5,"r":-2.3,"e":8.65},{"t":1422.5,"r":2.6,"e":13.55},{"t":1427.5,"r":-0.5,"e":10.3},{"t":1432.5,"r":2.3,"e":12.5},{"t":1437.5,"r":-1.9,"e":8.1},{"t":1442.5,"r":0.8,"e":11.2},{"t":1447.5,"r":-2.6,"e":7.5},
{"t":1452.5,"r":2.7,"e":12.75},{"t":1457.5,"r":-0.8,"e":9.6},{"t":1462.5,"r":-2.4,"e":7.7},{"t":1467.5,"r":2.9,"e":13.0},{"t":1472.5,"r":0.4,"e":10.9},{"t":1477.5,"r":-1.7,"e":9.0},{"t":1482.5,"r":-2.5,"e":8.28},{"t":1487.5,"r":2.1,"e":12.68},{"t":1492.5,"r":-2.9,"e":7.1},{"t":1497.5,"r":3.1,"e":12.75},
{"t":1502.5,"r":-1.2,"e":8.45},{"t":1507.5,"r":3.4,"e":13.75},{"t":1512.5,"r":-2.9,"e":8.55},{"t":1517.5,"r":1.5,"e":13.6},{"t":1522.5,"r":2.8,"e":15.4},{"t":1527.5,"r":-3.2,"e":8.78},{"t":1532.5,"r":3.4,"e":14.05},{"t":1537.5,"r":-2.2,"e":8.05},{"t":1542.5,"r":1.3,"e":11.85},{"t":1547.5,"r":-2.6,"e":8.15},
{"t":1552.5,"r":3.5,"e":13.95},{"t":1557.5,"r":-1.4,"e":9.25},{"t":1562.5,"r":1.0,"e":11.8},{"t":1567.5,"r":-3.1,"e":7.4},{"t":1572.5,"r":2.2,"e":12.5},{"t":1577.5,"r":0.6,"e":11.3},{"t":1582.5,"r":-2.0,"e":9.8},{"t":1587.5,"r":3.3,"e":14.7},{"t":1592.5,"r":-3.0,"e":7.3},{"t":1597.5,"r":1.1,"e":11.75},
{"t":1602.5,"r":3.6,"e":14.9},{"t":1607.5,"r":-1.6,"e":10.2},{"t":1612.5,"r":2.5,"e":14.5},{"t":1617.5,"r":-2.9,"e":8.85},{"t":1622.5,"r":0.9,"e":12.55},{"t":1627.5,"r":-0.7,"e":11.35},{"t":1632.5,"r":2.0,"e":14.25},{"t":1637.5,"r":-3.3,"e":8.45},{"t":1642.5,"r":3.4,"e":15.0},{"t":1647.5,"r":-1.1,"e":10.9},
{"t":1652.5,"r":1.5,"e":13.35},{"t":1657.5,"r":-2.8,"e":9.45},{"t":1662.5,"r":3.7,"e":16.5},{"t":1667.5,"r":0.8,"e":13.4},{"t":1672.5,"r":-2.7,"e":10.0},{"t":1677.5,"r":4.2,"e":17.1},{"t":1682.5,"r":-3.3,"e":9.9},{"t":1687.5,"r":3.0,"e":16.45},{"t":1692.5,"r":-1.9,"e":11.45},{"t":1697.5,"r":-3.5,"e":9.9},
{"t":1702.5,"r":4.4,"e":18.35},{"t":1707.5,"r":1.5,"e":15.25},{"t":1712.5,"r":-3.4,"e":9.5},{"t":1717.5,"r":4.1,"e":17.1},{"t":1722.5,"r":-0.8,"e":13.25},{"t":1727.5,"r":2.6,"e":17.35},{"t":1732.5,"r":-3.6,"e":11.25},{"t":1737.5,"r":1.1,"e":15.65},{"t":1742.5,"r":-3.9,"e":9.85},{"t":1747.5,"r":5.4,"e":19.45},
{"t":1752.5,"r":-2.5,"e":13.2},{"t":1757.5,"r":-4.0,"e":11.55},{"t":1762.5,"r":3.9,"e":19.25},{"t":1767.5,"r":-1.5,"e":14.75},{"t":1772.5,"r":4.0,"e":20.7},{"t":1777.5,"r":0.5,"e":17.1},{"t":1782.5,"r":4.4,"e":20.0},{"t":1787.5,"r":-3.7,"e":11.45},{"t":1792.5,"r":2.2,"e":16.6},{"t":1797.5,"r":3.6,"e":16.4}
]},
"resolve":{"scale":{"x":"independent","y":"independent","color":"independent"}},
"center":true,
"spacing":33,
"vconcat":[
{"width":2299,"height":695,
"view":{"stroke":"black","strokeWidth":5},
"title":{"text":"(a)","orient":"bottom","fontSize":85,"fontWeight":"bold","font":"Liberation Serif","color":"black","offset":40,"dx":-60},
"data":{"name":"d"},
"layer":[
{"transform":[{"filter":"isValid(datum.e)"}],
"mark":{"type":"line","strokeWidth":4.5,"clip":true},
"encoding":{"x":{"field":"t","type":"quantitative","scale":{"domain":[0,2000],"nice":false},"axis":{"values":[0,500,1000,1500,2000],"title":"Time/10s","labelFontSize":85,"titleFontSize":85,"labelPadding":43,"titlePadding":12}},
"y":{"field":"e","type":"quantitative","scale":{"domain":[0,30],"nice":false},"axis":{"values":[0,10,20,30],"title":"Amplitude/g","labelFontSize":85,"titleFontSize":85,"labelPadding":42,"titlePadding":32}},
"color":{"datum":"EVI value","type":"nominal","scale":{"domain":["EVI value","LFC value"],"range":["#b3b3b3","#0000ff"]},
"legend":{"title":null,"orient":"none","legendX":1667,"legendY":48,"labelFontSize":85,"labelColor":"black","symbolType":"M-1,0H5","symbolSize":3761,"symbolStrokeWidth":4,"labelOffset":138,"rowPadding":24,"padding":0}}}},
{"transform":[{"filter":"isValid(datum.l)"}],
"mark":{"type":"line","strokeWidth":6,"clip":true},
"encoding":{"x":{"field":"t","type":"quantitative"},"y":{"field":"l","type":"quantitative"},"color":{"datum":"LFC value","type":"nominal"}}}
]},
{"width":2145,"height":647,
"view":{"stroke":"black","strokeWidth":4},
"title":{"text":"(b)","orient":"bottom","fontSize":80,"fontWeight":"bold","font":"Liberation Serif","color":"black","offset":47,"dx":-55},
"data":{"name":"d"},
"mark":{"type":"line","strokeWidth":5,"color":"#0000ff","clip":true},
"encoding":{"x":{"field":"t","type":"quantitative","scale":{"domain":[0,2000],"nice":false},"axis":{"values":[0,500,1000,1500,2000],"title":"Time/10s","labelFontSize":78,"titleFontSize":78,"labelPadding":43,"titlePadding":12}},
"y":{"field":"r","type":"quantitative","scale":{"domain":[-5,10],"nice":false},"axis":{"values":[-5,0,5,10],"title":"Amplitude/g","labelFontSize":78,"titleFontSize":78,"labelPadding":42,"titlePadding":32}}}}
]
}
